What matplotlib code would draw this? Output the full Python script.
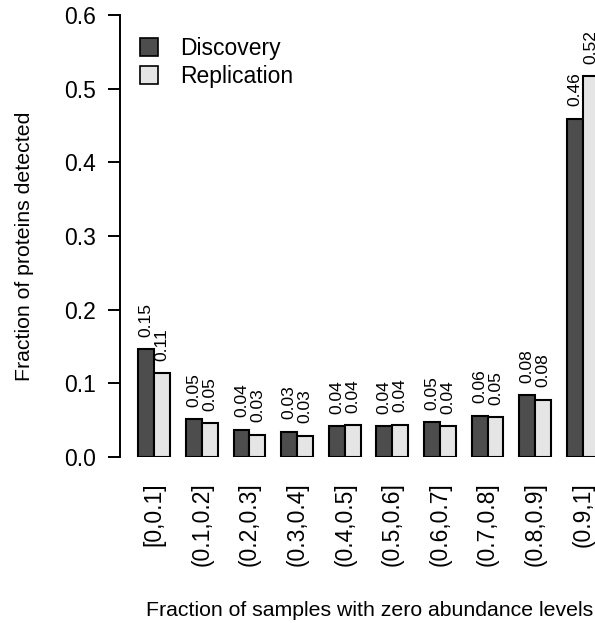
import numpy as np
import matplotlib
matplotlib.use('Agg')
import matplotlib.pyplot as plt
from matplotlib.patches import Patch

plt.rcParams['font.family'] = ['Liberation Sans', 'DejaVu Sans']

# fraction of samples with zero abundance, binned
bins = ['[0,0.1]', '(0.1,0.2]', '(0.2,0.3]', '(0.3,0.4]', '(0.4,0.5]',
        '(0.5,0.6]', '(0.6,0.7]', '(0.7,0.8]', '(0.8,0.9]', '(0.9,1]']
discovery = [0.146, 0.051, 0.037, 0.034, 0.042, 0.042, 0.047, 0.056, 0.084, 0.459]
replication = [0.114, 0.046, 0.030, 0.029, 0.043, 0.044, 0.042, 0.054, 0.078, 0.517]
yticks = [0.0, 0.1, 0.2, 0.3, 0.4, 0.5, 0.6]

W, H = 595, 623
fig = plt.figure(figsize=(W / 100, H / 100), dpi=100)
# plot region runs a bit past the right edge, like the cropped R device
ax = fig.add_axes([120 / W, (H - 457) / H, (617 - 120) / W, (457 - 15) / H])

dark = '#4d4d4d'
light = '#e5e5e5'

centers = 3 * np.arange(len(bins)) + 2
b1 = ax.bar(centers - 0.5, discovery, width=1, color=dark, edgecolor='black', linewidth=1.5)
b2 = ax.bar(centers + 0.5, replication, width=1, color=light, edgecolor='black', linewidth=1.5)

for bars, vals in ((b1, discovery), (b2, replication)):
    for rect, v in zip(bars, vals):
        ax.annotate('%.2f' % v, (rect.get_x() + rect.get_width() / 2, v),
                    xytext=(0, 9), textcoords='offset points',
                    rotation=90, ha='center', va='bottom', fontsize=12.5,
                    annotation_clip=False)

ax.set_xlim(-0.16, 31.16)
ax.set_ylim(0, 0.6)
ax.set_yticks(yticks)
ax.set_yticklabels(['%.1f' % t for t in yticks], fontsize=16.5)
ax.tick_params(axis='y', length=8.5, width=1.4, pad=9)

ax.set_xticks(centers)
ax.set_xticklabels(bins, rotation=90, fontsize=16.5)
ax.tick_params(axis='x', length=0, pad=18)

for s in ('top', 'right', 'bottom'):
    ax.spines[s].set_visible(False)
ax.spines['left'].set_linewidth(1.4)

fig.text(25 / W, 1 - 246 / H, 'Fraction of proteins detected', rotation=90,
         ha='center', va='center', fontsize=15.3)
fig.text(370 / W, 1 - 610 / H, 'Fraction of samples with zero abundance levels',
         ha='center', va='center', fontsize=15.3)

handles = [Patch(facecolor=dark, edgecolor='black', linewidth=1.2, label='Discovery'),
           Patch(facecolor=light, edgecolor='black', linewidth=1.2, label='Replication')]
ax.legend(handles=handles, loc='upper left', bbox_to_anchor=(133 / W, 1 - 30 / H),
          bbox_transform=fig.transFigure, frameon=False, fontsize=16.5,
          handlelength=0.8, handleheight=0.8, handletextpad=0.95, labelspacing=0.22,
          borderaxespad=0, borderpad=0.3)

fig.savefig('out.png', dpi=100)
